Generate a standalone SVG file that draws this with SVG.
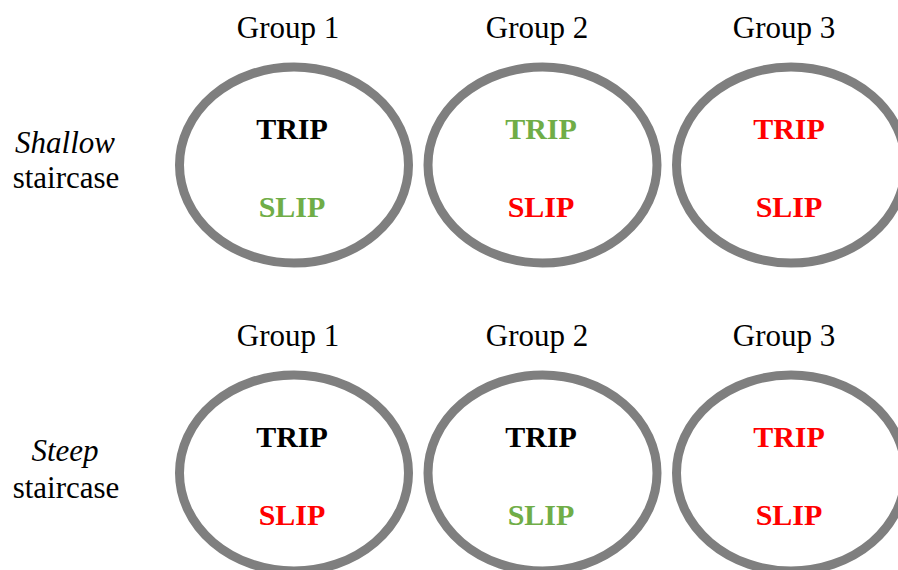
<svg xmlns="http://www.w3.org/2000/svg" width="898" height="570" viewBox="0 0 898 570">
  <style>
    .ring { fill: #ffffff; stroke: #7f7f7f; stroke-width: 9; }
    .head { font-family: "Liberation Serif", "Times New Roman", serif; font-size: 31px; fill: #000000; text-anchor: middle; }
    .row { font-family: "Liberation Serif", "Times New Roman", serif; font-size: 31px; fill: #000000; text-anchor: middle; }
    .it { font-style: italic; }
    .lbl { font-family: "Liberation Serif", "Times New Roman", serif; font-size: 30px; font-weight: bold; text-anchor: middle; }
    .k { fill: #000000; }
    .g { fill: #70ad47; }
    .r { fill: #ff0000; }
  </style>

  <!-- row labels -->
  <g id="row-shallow">
    <text class="row it" x="65" y="153">Shallow</text>
    <text class="row" x="66" y="188">staircase</text>
  </g>
  <g id="row-steep">
    <text class="row it" x="65" y="461">Steep</text>
    <text class="row" x="66" y="498">staircase</text>
  </g>

  <!-- column headings -->
  <g id="headings">
    <text class="head" x="288" y="38">Group 1</text>
    <text class="head" x="537" y="38">Group 2</text>
    <text class="head" x="784" y="38">Group 3</text>
    <text class="head" x="288" y="346">Group 1</text>
    <text class="head" x="537" y="346">Group 2</text>
    <text class="head" x="784" y="346">Group 3</text>
  </g>

  <!-- shallow staircase -->
  <g id="shallow-g1">
    <ellipse class="ring" cx="294" cy="165" rx="114.5" ry="98"/>
    <text class="lbl k" x="292" y="139">TRIP</text>
    <text class="lbl g" x="292" y="217">SLIP</text>
  </g>
  <g id="shallow-g2">
    <ellipse class="ring" cx="542.5" cy="165" rx="114.5" ry="98"/>
    <text class="lbl g" x="541" y="139">TRIP</text>
    <text class="lbl r" x="541" y="217">SLIP</text>
  </g>
  <g id="shallow-g3">
    <ellipse class="ring" cx="791" cy="165" rx="114.5" ry="98"/>
    <text class="lbl r" x="789" y="139">TRIP</text>
    <text class="lbl r" x="789" y="217">SLIP</text>
  </g>

  <!-- steep staircase -->
  <g id="steep-g1">
    <ellipse class="ring" cx="294" cy="473" rx="114.5" ry="98"/>
    <text class="lbl k" x="292" y="447">TRIP</text>
    <text class="lbl r" x="292" y="525">SLIP</text>
  </g>
  <g id="steep-g2">
    <ellipse class="ring" cx="542.5" cy="473" rx="114.5" ry="98"/>
    <text class="lbl k" x="541" y="447">TRIP</text>
    <text class="lbl g" x="541" y="525">SLIP</text>
  </g>
  <g id="steep-g3">
    <ellipse class="ring" cx="791" cy="473" rx="114.5" ry="98"/>
    <text class="lbl r" x="789" y="447">TRIP</text>
    <text class="lbl r" x="789" y="525">SLIP</text>
  </g>

  <g id="connectors"/>
</svg>
